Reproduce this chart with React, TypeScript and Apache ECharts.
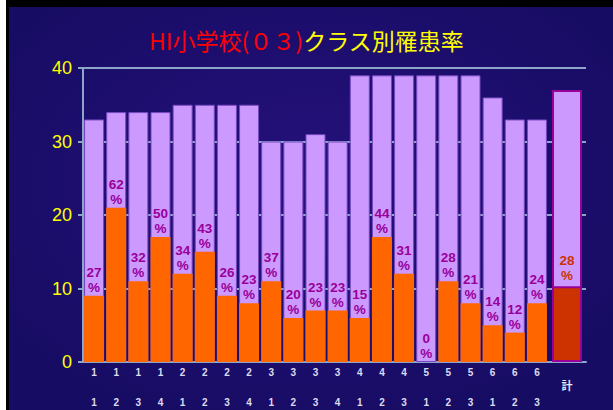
import React, { useEffect, useRef } from "react";
import * as echarts from "echarts";

const grades = ["1","1","1","1","2","2","2","2","3","3","3","3","4","4","4","5","5","5","6","6","6"];
const classes = ["1","2","3","4","1","2","3","4","1","2","3","4","1","2","3","1","2","3","1","2","3"];
const enrolled = [33,34,34,34,35,35,35,35,30,30,31,30,39,39,39,39,39,39,36,33,33];
const affected = [9,21,11,17,12,15,9,8,11,6,7,7,6,17,12,0,11,8,5,4,8];
const rates = [27,62,32,50,34,43,26,23,37,20,23,23,15,44,31,0,28,21,14,12,24];
const totalCategory = ["計"];
const totalEnrolled = [37];
const totalAffected = [10.3];
const totalRate = [28];
const yTicks = { min: 0, max: 40, interval: 10 };

const GRID_COLOR = "#8ca5c8";
const LILAC = "#cc99ff";
const ORANGE = "#ff6600";

export default function App() {
  const ref = useRef<HTMLDivElement>(null);
  useEffect(() => {
    const chart = echarts.init(ref.current!, null, { renderer: "svg" });
    const xLabel = { color: "#dcdcf0", fontSize: 10, fontWeight: "bold", fontFamily: "Arial", margin: 5 };
    chart.setOption({
      animation: false,
      backgroundColor: new echarts.graphic.RadialGradient(0.5, 0.45, 0.6, [
        { offset: 0, color: "#26117c" },
        { offset: 1, color: "#170c64" },
      ]),
      title: {
        left: "center",
        top: 21,
        text: "{r|HI小学校(０３)}{y|クラス別罹患率}",
        textStyle: {
          fontWeight: "normal",
          rich: {
            r: { color: "#ff0000", fontSize: 23, lineHeight: 28, fontWeight: "normal", fontFamily: "Noto Sans CJK JP" },
            y: { color: "#ffff00", fontSize: 23, lineHeight: 28, fontWeight: "normal", fontFamily: "Noto Sans CJK JP" },
          },
        },
      },
      graphic: [
        { type: "rect", shape: { x: 0, y: 0, width: 6, height: 410 }, style: { fill: "#ffffff" }, z: 100 },
        { type: "rect", shape: { x: 6, y: 0, width: 3, height: 410 }, style: { fill: "#000000" }, z: 100 },
        { type: "rect", shape: { x: 6, y: 0, width: 607, height: 7 }, style: { fill: "#000000" }, z: 100 },
      ],
      grid: [
        { left: 83, right: 65, top: 68, bottom: 48 },
        { left: 548, right: 27, top: 68, bottom: 48 },
      ],
      xAxis: [
        {
          gridIndex: 0, type: "category", data: grades,
          axisLine: { lineStyle: { color: GRID_COLOR, width: 2 } },
          axisTick: { show: false }, axisLabel: xLabel,
        },
        {
          gridIndex: 0, type: "category", data: classes, position: "bottom", offset: 30,
          axisLine: { show: false }, axisTick: { show: false }, axisLabel: xLabel,
        },
        {
          gridIndex: 1, type: "category", data: totalCategory,
          axisLine: { lineStyle: { color: GRID_COLOR, width: 2 } },
          axisTick: { show: false },
          axisLabel: { color: "#e4eeff", fontSize: 11, fontWeight: "bold", margin: 17, fontFamily: "Noto Sans CJK JP" },
        },
      ],
      yAxis: [
        {
          gridIndex: 0, type: "value", ...yTicks,
          axisLine: { show: true, lineStyle: { color: GRID_COLOR, width: 2 } },
          axisTick: { show: true, length: 5, lineStyle: { color: GRID_COLOR, width: 2 } },
          splitLine: { lineStyle: { color: GRID_COLOR, width: 2 } },
          axisLabel: { color: "#ffff00", fontSize: 18, fontFamily: "Arial", margin: 11, padding: [8, 0, 0, 0] },
        },
        {
          gridIndex: 1, type: "value", ...yTicks,
          axisLine: { show: false }, axisTick: { show: false }, axisLabel: { show: false },
          splitLine: { lineStyle: { color: GRID_COLOR, width: 2 } },
        },
      ],
      series: [
        {
          type: "bar", xAxisIndex: 0, yAxisIndex: 0, data: enrolled, barWidth: 20, barGap: "-100%",
          itemStyle: { color: LILAC, borderColor: "#7448c0", borderWidth: 1 },
        },
        {
          type: "bar", xAxisIndex: 0, yAxisIndex: 0, data: affected, barWidth: 20, barGap: "-100%",
          itemStyle: { color: ORANGE },
          label: {
            show: true, position: "top", distance: 1,
            formatter: (p: any) => `${rates[p.dataIndex]}\n%`,
            color: "#990099", fontSize: 13.5, fontWeight: "bold", fontFamily: "Arial", lineHeight: 15,
          },
        },
        {
          type: "bar", xAxisIndex: 2, yAxisIndex: 1, data: totalEnrolled, barWidth: 30, barGap: "-100%",
          itemStyle: { color: LILAC, borderColor: "#990099", borderWidth: 2 },
        },
        {
          type: "bar", xAxisIndex: 2, yAxisIndex: 1, data: totalAffected, barWidth: 30, barGap: "-100%",
          itemStyle: { color: "#cc3300", borderColor: "#990099", borderWidth: 2 },
          label: {
            show: true, position: "top", distance: 3,
            formatter: (p: any) => `${totalRate[p.dataIndex]}\n%`,
            color: "#cc3300", fontSize: 13.5, fontWeight: "bold", fontFamily: "Arial", lineHeight: 15,
          },
        },
      ],
    });
    return () => chart.dispose();
  }, []);
  return <div ref={ref} style={{ position: "absolute", left: 0, top: 0, width: 613, height: 410 }} />;
}
